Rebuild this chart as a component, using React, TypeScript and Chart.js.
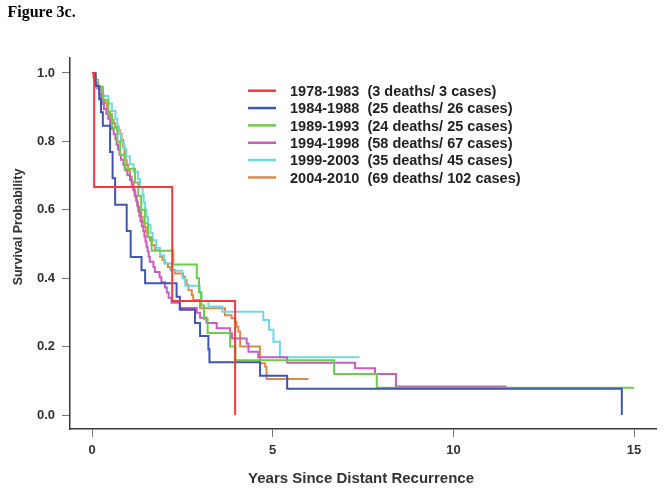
import React, { useEffect, useRef } from 'react';
import { Chart, registerables } from 'chart.js';

Chart.register(...registerables);

// ---- Data ----
const figureTitle = 'Figure 3c.';
const xAxisTitle = 'Years Since Distant Recurrence';
const yAxisTitle = 'Survival Probability';

const xTicks = [0, 5, 10, 15];
const yTicks = [0, 0.2, 0.4, 0.6, 0.8, 1.0];

const seriesLabels = ['1978-1983', '1984-1988', '1989-1993', '1994-1998', '1999-2003', '2004-2010'];
const seriesCounts = [
  '(3 deaths/ 3 cases)',
  '(25 deaths/ 26 cases)',
  '(24 deaths/ 25 cases)',
  '(58 deaths/ 67 cases)',
  '(35 deaths/ 45 cases)',
  '(69 deaths/ 102 cases)',
];
const seriesColors = ['#f03c3c', '#3f55b2', '#6ccd4c', '#c95cc0', '#70d8e3', '#d98c4a'];

const t1978 = [0, 0.06, 2.22, 3.96];
const s1978 = [1, 0.667, 0.333, 0];

const t1984 = [0, 0.1, 0.2, 0.25, 0.3, 0.5, 0.57, 0.64, 0.96, 1.07, 1.37, 1.47, 2.34, 2.43, 2.85, 2.99, 3.22, 3.25, 4.65, 5.4, 14.66];
const s1984 = [1, 0.962, 0.923, 0.885, 0.846, 0.769, 0.692, 0.615, 0.538, 0.462, 0.423, 0.385, 0.346, 0.308, 0.269, 0.231, 0.192, 0.154, 0.115, 0.077, 0];

const t1989 = [0, 0.1, 0.3, 0.45, 0.55, 0.7, 0.78, 0.9, 1.19, 1.28, 1.36, 1.46, 1.55, 1.65, 2.25, 2.9, 2.96, 3.02, 3.1, 3.2, 3.82, 3.97, 6.7, 7.88, 15.0];
const s1989 = [1, 0.96, 0.92, 0.88, 0.84, 0.8, 0.76, 0.72, 0.68, 0.64, 0.6, 0.56, 0.52, 0.48, 0.44, 0.4, 0.36, 0.32, 0.28, 0.24, 0.2, 0.16, 0.12, 0.08, 0.08];

const t1994 = [0, 0.05, 0.1, 0.15, 0.2, 0.25, 0.3, 0.33, 0.4, 0.45, 0.5, 0.55, 0.6, 0.65, 0.68, 0.72, 0.76, 0.8, 0.87, 0.92, 0.98, 1.05, 1.1, 1.14, 1.18, 1.22, 1.25, 1.28, 1.31, 1.34, 1.38, 1.42, 1.45, 1.48, 1.51, 1.54, 1.57, 1.6, 1.7, 1.74, 1.87, 1.92, 2.02, 2.07, 2.12, 2.2, 2.43, 2.9, 2.99, 3.17, 3.45, 3.82, 3.87, 4.28, 4.33, 4.6, 5.4, 7.28, 7.83, 8.41, 11.47];
const s1994 = [1, 0.985, 0.97, 0.955, 0.94, 0.925, 0.91, 0.895, 0.88, 0.866, 0.851, 0.836, 0.821, 0.806, 0.791, 0.776, 0.761, 0.746, 0.731, 0.716, 0.701, 0.687, 0.672, 0.657, 0.642, 0.627, 0.612, 0.597, 0.582, 0.567, 0.552, 0.537, 0.522, 0.507, 0.492, 0.478, 0.463, 0.448, 0.433, 0.418, 0.403, 0.388, 0.373, 0.358, 0.343, 0.328, 0.313, 0.299, 0.284, 0.269, 0.254, 0.239, 0.224, 0.209, 0.185, 0.169, 0.153, 0.137, 0.12, 0.083, 0.083];

const t1999 = [0, 0.05, 0.15, 0.3, 0.45, 0.55, 0.65, 0.7, 0.75, 0.8, 0.88, 0.95, 1.05, 1.15, 1.27, 1.33, 1.4, 1.43, 1.47, 1.51, 1.55, 1.62, 1.68, 1.78, 1.88, 2.0, 2.2, 2.5, 2.58, 2.98, 3.03, 3.22, 3.6, 4.74, 4.9, 5.02, 5.2, 7.4];
const s1999 = [1, 0.978, 0.956, 0.933, 0.911, 0.889, 0.867, 0.844, 0.822, 0.8, 0.778, 0.756, 0.733, 0.711, 0.689, 0.667, 0.644, 0.622, 0.6, 0.578, 0.556, 0.533, 0.511, 0.489, 0.467, 0.444, 0.422, 0.4, 0.378, 0.356, 0.333, 0.317, 0.302, 0.278, 0.249, 0.214, 0.169, 0.169];

const t2004 = [0, 0.04, 0.1, 0.17, 0.22, 0.27, 0.32, 0.36, 0.41, 0.45, 0.5, 0.55, 0.6, 0.64, 0.7, 0.77, 0.82, 0.86, 0.9, 0.93, 0.96, 1.0, 1.05, 1.1, 1.15, 1.18, 1.2, 1.24, 1.27, 1.31, 1.36, 1.4, 1.45, 1.49, 1.53, 1.6, 1.65, 1.74, 1.88, 1.95, 2.02, 2.1, 2.17, 2.3, 2.52, 2.57, 2.62, 2.67, 2.76, 2.8, 2.99, 3.68, 3.86, 3.96, 4.0, 4.05, 4.1, 4.65, 4.79, 4.83, 5.99];
const s2004 = [1, 0.99, 0.98, 0.961, 0.951, 0.936, 0.922, 0.912, 0.897, 0.887, 0.873, 0.863, 0.853, 0.843, 0.833, 0.823, 0.804, 0.784, 0.765, 0.745, 0.731, 0.716, 0.697, 0.682, 0.667, 0.652, 0.638, 0.623, 0.608, 0.594, 0.579, 0.565, 0.55, 0.536, 0.521, 0.511, 0.497, 0.482, 0.463, 0.453, 0.443, 0.433, 0.424, 0.414, 0.404, 0.394, 0.38, 0.365, 0.35, 0.336, 0.312, 0.292, 0.283, 0.273, 0.258, 0.244, 0.2, 0.151, 0.141, 0.105, 0.105];

const seriesTimes = [t1978, t1984, t1989, t1994, t1999, t2004];
const seriesSurv = [s1978, s1984, s1989, s1994, s1999, s2004];

// ---- Layout constants ----
const W = 664;
const H = 491;
const FONT = "'Liberation Sans', Arial, Helvetica, sans-serif";

const overlayPlugin = {
  id: 'overlayText',
  afterDraw(chart: any) {
    const ctx = chart.ctx as CanvasRenderingContext2D;
    ctx.save();
    // Figure title
    ctx.fillStyle = '#000';
    ctx.font = "bold 16px 'Liberation Serif', 'Times New Roman', serif";
    ctx.textAlign = 'left';
    ctx.textBaseline = 'alphabetic';
    ctx.fillText(figureTitle, 7.5, 16.7);

    // X axis title
    ctx.fillStyle = '#333';
    ctx.font = `bold 15px ${FONT}`;
    ctx.textAlign = 'center';
    ctx.fillText(xAxisTitle, 361, 483);

    // Y axis title
    ctx.save();
    ctx.translate(21.5, 227);
    ctx.rotate(-Math.PI / 2);
    ctx.font = `bold 12.5px ${FONT}`;
    ctx.textAlign = 'center';
    ctx.fillText(yAxisTitle, 0, 0);
    ctx.restore();

    // Legend
    const rowGap = 17.35;
    for (let i = 0; i < seriesLabels.length; i++) {
      const cy = 90.7 + i * rowGap;
      ctx.strokeStyle = seriesColors[i];
      ctx.lineWidth = 2.5;
      ctx.beginPath();
      ctx.moveTo(248, cy);
      ctx.lineTo(276, cy);
      ctx.stroke();
      ctx.fillStyle = '#222';
      ctx.font = `bold 14.5px ${FONT}`;
      ctx.textAlign = 'left';
      ctx.textBaseline = 'alphabetic';
      ctx.fillText(`${seriesLabels[i]}  ${seriesCounts[i]}`, 290, cy + 5.3);
    }
    ctx.restore();
  },
};

export default function App() {
  const ref = useRef<HTMLCanvasElement>(null);

  useEffect(() => {
    if (!ref.current) return;
    const datasets = seriesLabels.map((label, i) => ({
      label,
      data: seriesTimes[i].map((t, j) => ({ x: t, y: seriesSurv[i][j] })),
      borderColor: seriesColors[i],
      backgroundColor: seriesColors[i],
      borderWidth: 2,
      pointRadius: 0,
      pointHoverRadius: 0,
      stepped: 'before' as const,
      fill: false,
      tension: 0,
    }));

    const xMin = (70 - 92) / 36.14;
    const xMax = xMin + (656 - 70) / 36.14;
    const yMin = -(429 - 415) / 342;
    const yMax = 1 + (73 - 58) / 342;

    const chart = new Chart(ref.current, {
      type: 'line',
      data: { datasets },
      options: {
        responsive: false,
        animation: false,
        devicePixelRatio: 1,
        layout: { padding: { left: 0, top: 58, right: 8, bottom: 0 } },
        plugins: {
          legend: { display: false },
          tooltip: { enabled: false },
          title: { display: false },
        },
        scales: {
          x: {
            type: 'linear',
            min: xMin,
            max: xMax,
            afterBuildTicks: (s: any) => {
              s.ticks = xTicks.map((v) => ({ value: v }));
            },
            afterFit: (s: any) => {
              s.height = 62;
            },
            grid: { drawOnChartArea: false, drawTicks: true, tickLength: 8, color: '#777', lineWidth: 1 },
            border: { display: true, color: '#3a3a3a', width: 1.5 },
            ticks: {
              color: '#333',
              font: { family: FONT, size: 13, weight: 'bold' },
              padding: 6,
              maxRotation: 0,
              autoSkip: false,
              callback: (v: any) => String(v),
            },
          },
          y: {
            type: 'linear',
            min: yMin,
            max: yMax,
            afterBuildTicks: (s: any) => {
              s.ticks = yTicks.map((v) => ({ value: v }));
            },
            afterFit: (s: any) => {
              s.width = 70;
            },
            grid: { drawOnChartArea: false, drawTicks: true, tickLength: 8, color: '#777', lineWidth: 1 },
            border: { display: true, color: '#3a3a3a', width: 1.5 },
            ticks: {
              color: '#333',
              font: { family: FONT, size: 13, weight: 'bold' },
              padding: 7,
              autoSkip: false,
              callback: (v: any) => Number(v).toFixed(1),
            },
          },
        },
      },
      plugins: [overlayPlugin],
    } as any);

    return () => chart.destroy();
  }, []);

  return (
    <div style={{ position: 'absolute', left: 0, top: 0, width: W, height: H, background: '#fff' }}>
      <canvas ref={ref} width={W} height={H} style={{ display: 'block', width: W, height: H }} />
    </div>
  );
}
